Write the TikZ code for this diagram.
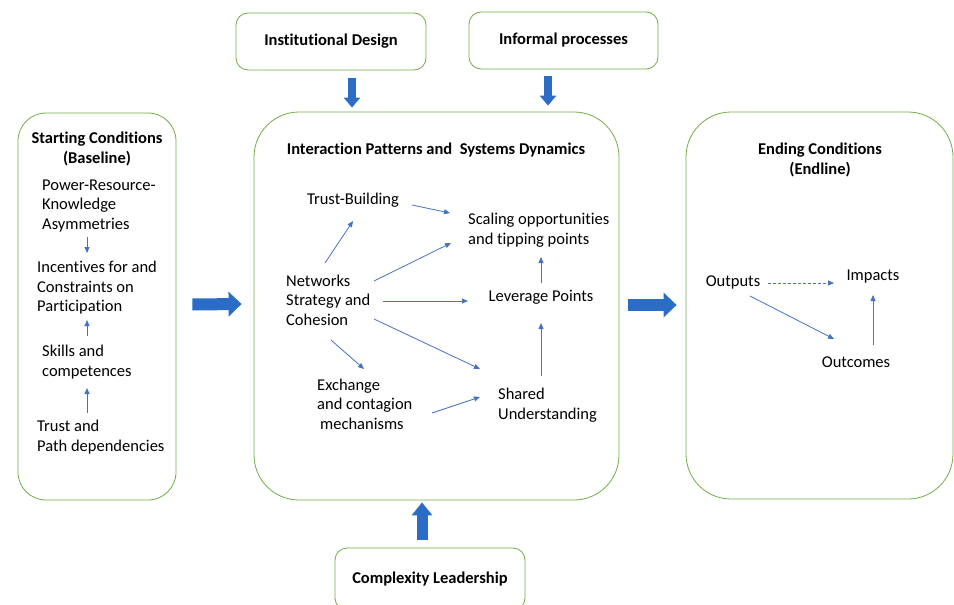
\documentclass[tikz,border=0pt]{standalone}
\usepackage{fontspec}
\setmainfont[Ligatures=NoCommon]{Carlito}
\usetikzlibrary{arrows.meta}

\definecolor{boxgreen}{HTML}{70AD47}
\definecolor{fatblue}{HTML}{2A6CC6}
\definecolor{thinblue}{HTML}{4472C4}
\newcommand\diagfont{\fontsize{16.5}{19.5}\selectfont}

\tikzset{
  panel/.style={draw=boxgreen, line width=0.8pt, rounded corners=45pt, inner sep=0pt},
  labelbox/.style={draw=boxgreen, line width=0.8pt, rounded corners=12pt,
    minimum width=190pt, minimum height=57pt, font=\diagfont\bfseries},
  txt/.style={inner sep=0pt, align=left, font=\diagfont},
  headtxt/.style={inner sep=0pt, align=center, font=\diagfont\bfseries},
  flow/.style={draw=thinblue, line width=0.8pt, -{Triangle[length=6pt,width=5pt]}},
  bigarrow/.style={draw=fatblue, line width=12pt, -{Triangle[length=13pt,width=24pt]}},
  droparrow/.style={draw=fatblue, line width=8pt, -{Triangle[length=10pt,width=16pt]}},
  liftarrow/.style={draw=fatblue, line width=11pt, -{Triangle[length=13pt,width=20pt]}},
}

\begin{document}
\begin{tikzpicture}[x=1pt, y=-1pt]
  \useasboundingbox (0,0) rectangle (954,605);

  % the three stages
  \node[panel, rounded corners=28pt, minimum width=158pt, minimum height=387pt] (start) at (97,306.5) {};
  \node[panel, minimum width=365pt, minimum height=388pt] (core) at (436.5,306) {};
  \node[panel, minimum width=267pt, minimum height=387pt] (endc) at (819.5,305.5) {};

  % outside influences
  \node[labelbox] (inst) at (331,41.5) {Institutional Design};
  \node[labelbox, minimum width=189pt] (infp) at (563.5,40.5) {Informal processes};
  \node[labelbox, minimum height=62pt] (cxl) at (430,579) {Complexity Leadership};

  \draw[droparrow] ([shift={(21,8)}]inst.south) -- ([shift={(-84.5,-4)}]core.north);
  \draw[droparrow] ([shift={(-15.5,7)}]infp.south) -- ([shift={(111.5,-6)}]core.north);
  \draw[liftarrow] ([shift={(-8,-8)}]cxl.north) -- ([shift={(-14.5,2)}]core.south);
  \draw[bigarrow] ([shift={(16,-2)}]start.east) -- ([shift={(-12,-2)}]core.west);
  \draw[bigarrow] ([shift={(9,-1)}]core.east) -- ([shift={(-9,-0.5)}]endc.west);

  % starting conditions
  \node[headtxt] (starttitle) at (97,149) {Starting Conditions\\(Baseline)};
  \node[txt, anchor=west] (pra) at (42,206) {Power-Resource-\\Knowledge\\Asymmetries};
  \node[txt, anchor=west] (inc) at (37,288) {Incentives for and\\Constraints on\\Participation};
  \node[txt, anchor=west] (skl) at (42,362) {Skills and\\competences};
  \node[txt, anchor=west] (tpd) at (37,437) {Trust and\\Path dependencies};

  \draw[flow] ([shift={(45,31)}]pra.west) -- ([shift={(50,-35)}]inc.west);
  \draw[flow] ([shift={(45,-26)}]skl.west) -- ([shift={(50,32)}]inc.west);
  \draw[flow] ([shift={(50,-24)}]tpd.west) -- ([shift={(45,26)}]skl.west);

  % interaction patterns
  \node[headtxt] (coretitle) at (436,150) {Interaction Patterns and\ \ Systems Dynamics};
  \node[txt] (trustb) at (353,200) {Trust-Building};
  \node[txt, anchor=west] (scale) at (468,230) {Scaling opportunities\\and tipping points};
  \node[txt, anchor=west] (net) at (286,300) {Networks\\Strategy and\\Cohesion};
  \node[txt] (lev) at (541,297) {Leverage Points};
  \node[txt, anchor=west] (exch) at (317,404) {Exchange\\and contagion\\\hspace{3pt}mechanisms};
  \node[txt, anchor=west] (shared) at (498,405) {Shared\\Understanding};

  \draw[flow] ([shift={(59,5)}]trustb.center) -- ([shift={(-18,-17)}]scale.west);
  \draw[flow] ([shift={(39,-37)}]net.west) -- ([shift={(0,21)}]trustb.center);
  \draw[flow] ([shift={(88,-19)}]net.west) -- ([shift={(-17,13)}]scale.west);
  \draw[flow] ([shift={(97,1)}]net.west) -- ([shift={(-73,4)}]lev.center);
  \draw[flow] ([shift={(88,19)}]net.west) -- ([shift={(-18,-36)}]shared.west);
  \draw[flow] ([shift={(45,40)}]net.west) -- ([shift={(47,-35)}]exch.west);
  \draw[flow] ([shift={(115,9)}]exch.west) -- ([shift={(-18,-8)}]shared.west);
  \draw[flow] ([shift={(43,-29)}]shared.west) -- ([shift={(0,26)}]lev.center);
  \draw[flow] ([shift={(0,-14)}]lev.center) -- ([shift={(73,27)}]scale.west);

  % ending conditions
  \node[headtxt] (endtitle) at (820,160) {Ending Conditions\\(Endline)};
  \node[txt] (outp) at (733,282) {Outputs};
  \node[txt] (imp) at (873,277) {Impacts};
  \node[txt] (outc) at (856,362) {Outcomes};

  \draw[flow, dash pattern=on 3pt off 2pt] ([shift={(35,1)}]outp.center) -- ([shift={(-39,6)}]imp.center);
  \draw[flow] ([shift={(17,14)}]outp.center) -- ([shift={(-22,-23)}]outc.center);
  \draw[flow] ([shift={(17,-17)}]outc.center) -- ([shift={(0,18)}]imp.center);
\end{tikzpicture}
\end{document}
